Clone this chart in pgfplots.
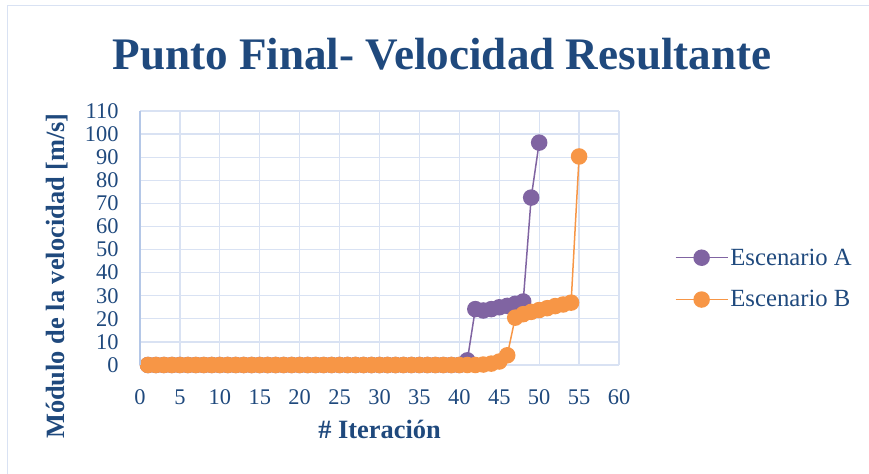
\documentclass[border=0pt]{standalone}
\usepackage{pgfplots}
\pgfplotsset{compat=1.18}
\usepackage{fontspec}
\setmainfont{Liberation Serif}
\definecolor{txt}{RGB}{31,73,125}
\definecolor{gridc}{RGB}{217,226,243}
\definecolor{axc}{RGB}{180,199,231}
\definecolor{serA}{RGB}{128,100,162}
\definecolor{serB}{RGB}{247,150,70}
\begin{document}
\begin{tikzpicture}[x=1bp,y=1bp]
\useasboundingbox (0,0) rectangle (869,474);
\draw[color=gridc, line width=1bp] (7,0) -- (7,468) -- (869,468);
\node[font=\fontsize{45.3}{48}\selectfont\bfseries, text=txt] at (442,420) {Punto Final- Velocidad Resultante};
\begin{axis}[
  at={(140bp,109bp)}, anchor=south west,
  scale only axis, width=479bp, height=254bp,
  xmin=0, xmax=60, ymin=0, ymax=110,
  xtick={0,5,...,60}, ytick={0,10,...,110},
  grid=major,
  major grid style={color=gridc, line width=1.2bp},
  axis line style={draw=none},
  tick style={draw=none},
  extra description/.code={\draw[axc, line width=1.2bp] (0,0) -- (0,1);},
  ticklabel style={font=\fontsize{22.5}{25}\selectfont, text=txt},
  /pgf/number format/assume math mode=true,
  yticklabel style={xshift=-18bp},
  xticklabel style={yshift=-21bp},
  xlabel={\# Iteración},
  ylabel={Módulo de la velocidad [m/s]},
  label style={font=\fontsize{26.5}{28}\selectfont\bfseries, text=txt},
  xlabel style={at={(0.5,0)}, anchor=base, yshift=-74bp},
  ylabel style={at={(-0.173,0.35)}, anchor=center, rotate=0},
  legend style={at={(1.11,0.34)}, anchor=west, draw=none, fill=none,
    font=\fontsize{24.8}{27}\selectfont, text=txt, row sep=20bp,
    /tikz/every even column/.append style={column sep=4bp}},
  legend cell align=left,
  legend image code/.code={\draw[mark repeat=2, mark phase=2, #1] plot coordinates {(0bp,0bp) (26bp,0bp) (52bp,0bp)};},
  clip=false,
]
\addplot[color=serA, line width=1.5bp, mark=*, mark size=7.5bp, mark options={fill=serA, draw=serA}] coordinates {
(1,0)(2,0)(3,0)(4,0)(5,0)(6,0)(7,0)(8,0)(9,0)(10,0)
(11,0)(12,0)(13,0)(14,0)(15,0)(16,0)(17,0)(18,0)(19,0)(20,0)
(21,0)(22,0)(23,0)(24,0)(25,0)(26,0)(27,0)(28,0)(29,0)(30,0)
(31,0)(32,0)(33,0)(34,0)(35,0)(36,0)(37,0)(38,0)(39,0)(40,0)
(41,2)(42,24.2)(43,23.6)(44,24.2)(45,25)(46,25.6)(47,26.5)(48,27.5)(49,72.5)(50,96.3)
};
\addlegendentry{Escenario A}
\addplot[color=serB, line width=1.5bp, mark=*, mark size=7.5bp, mark options={fill=serB, draw=serB}] coordinates {
(1,0)(2,0)(3,0)(4,0)(5,0)(6,0)(7,0)(8,0)(9,0)(10,0)
(11,0)(12,0)(13,0)(14,0)(15,0)(16,0)(17,0)(18,0)(19,0)(20,0)
(21,0)(22,0)(23,0)(24,0)(25,0)(26,0)(27,0)(28,0)(29,0)(30,0)
(31,0)(32,0)(33,0)(34,0)(35,0)(36,0)(37,0)(38,0)(39,0)(40,0)
(41,0)(42,0)(43,0.2)(44,0.6)(45,1.5)(46,4.2)(47,20.5)(48,22)(49,23)(50,23.8)
(51,24.6)(52,25.5)(53,26.2)(54,27)(55,90.3)
};
\addlegendentry{Escenario B}
\end{axis}
\end{tikzpicture}
\end{document}
